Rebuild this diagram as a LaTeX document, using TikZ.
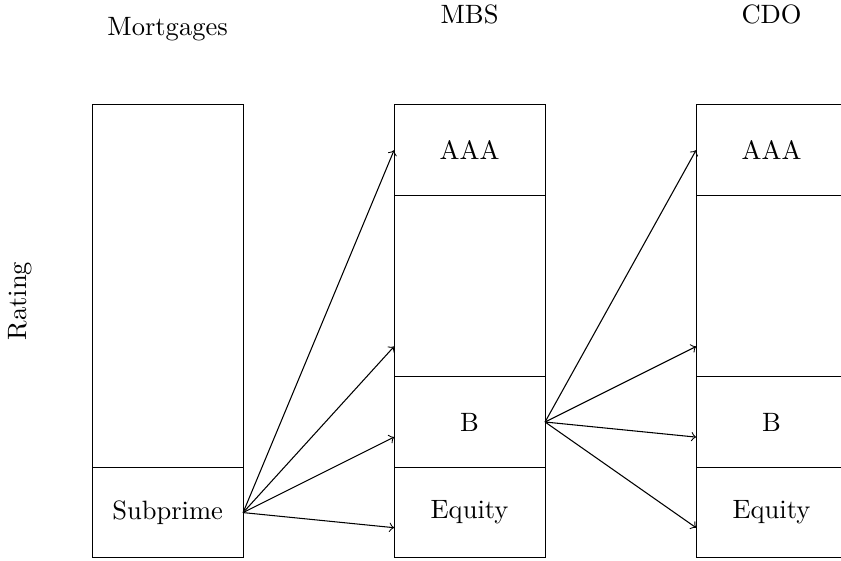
\documentclass[tikz,border=0pt]{standalone}

\begin{document}
\begin{tikzpicture}[tranche/.style={draw, minimum width=2cm, inner sep=0pt, outer sep=0pt}]
  \useasboundingbox (-1.22cm,-0.03cm) rectangle (9.92cm,7.39cm);
  % Mortgages
  \node[tranche, minimum height=4.8cm] (mtop) at (1cm,3.6cm) {};
  \node[tranche, minimum height=1.2cm] (sub) at (1cm,0.6cm) {Subprime};
  % MBS
  \node[tranche, minimum height=1.2cm] (aaa1) at (5cm,5.4cm) {AAA};
  \node[tranche, minimum height=2.4cm] (mid1) at (5cm,3.6cm) {};
  \node[tranche, minimum height=1.2cm] (b1) at (5cm,1.8cm) {B};
  \node[tranche, minimum height=1.2cm] (eq1) at (5cm,0.6cm) {Equity};
  % CDO
  \node[tranche, minimum height=1.2cm] (aaa2) at (9cm,5.4cm) {AAA};
  \node[tranche, minimum height=2.4cm] (mid2) at (9cm,3.6cm) {};
  \node[tranche, minimum height=1.2cm] (b2) at (9cm,1.8cm) {B};
  \node[tranche, minimum height=1.2cm] (eq2) at (9cm,0.6cm) {Equity};
  \node (mort) at (1cm,7cm) {Mortgages};
  \node (mbs) at (5cm,7.2cm) {MBS};
  \node (cdo) at (9cm,7.2cm) {CDO};
  \node[rotate=90] (rating) at (-0.95cm,3.4cm) {Rating};
  \draw[->] (sub.east) -- (aaa1.west);
  \draw[->] (sub.east) -- ([yshift=-0.8cm]mid1.west);
  \draw[->] (sub.east) -- ([yshift=-0.2cm]b1.west);
  \draw[->] (sub.east) -- ([yshift=-0.2cm]eq1.west);
  \draw[->] (b1.east) -- (aaa2.west);
  \draw[->] (b1.east) -- ([yshift=-0.8cm]mid2.west);
  \draw[->] (b1.east) -- ([yshift=-0.2cm]b2.west);
  \draw[->] (b1.east) -- ([yshift=-0.2cm]eq2.west);
\end{tikzpicture}
\end{document}
